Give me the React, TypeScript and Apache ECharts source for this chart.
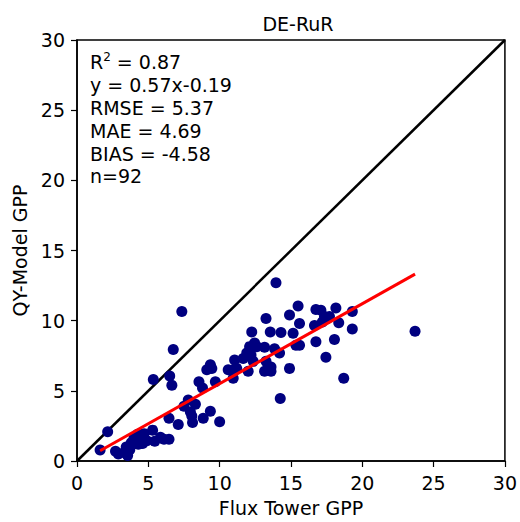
import React, { useEffect, useRef } from "react";
import * as echarts from "echarts";

const titleText = "DE-RuR";
const xName = "Flux Tower GPP";
const yName = "QY-Model GPP";
const axisTicks = [0, 5, 10, 15, 20, 25, 30];

const fluxGPP = [
  1.62, 2.15, 2.7, 2.9, 3.55, 3.45, 3.8, 4.0, 4.25, 4.45, 4.6, 4.7, 4.3, 3.7, 5.3, 5.45, 5.85, 6.1, 6.45, 6.45, 7.1, 3.3,
  8.1, 8.85, 9.35, 10.0, 7.8, 8.3, 7.5, 7.95, 8.05, 8.55, 8.8, 9.35, 9.45, 9.1, 9.7, 10.6, 10.95, 10.95, 11.05,
  7.35, 6.75, 5.35, 6.5, 6.65,
  11.65, 11.9, 12.2, 12.1, 12.6, 12.0, 12.35, 12.25, 12.45, 13.25, 13.55, 13.15, 13.85, 14.2, 13.25, 13.6, 13.15, 13.6,
  14.3, 14.9, 15.5, 15.6, 15.15, 15.35, 15.6, 14.9, 14.25, 13.95, 16.75, 17.1, 18.15, 19.3, 17.35, 17.55, 17.2, 18.35,
  16.65, 19.3, 23.7, 16.75, 18.05, 17.45, 18.7, 17.7, 4.9, 11.2,
];
const modelGPP = [
  0.78, 2.09, 0.7, 0.5, 0.4, 1.0, 1.3, 1.65, 1.9, 1.6, 1.25, 1.95, 1.2, 0.8, 2.2, 1.4, 1.7, 1.55, 1.55, 3.05, 2.6, 0.6,
  2.75, 3.05, 3.55, 2.8, 4.35, 4.05, 3.9, 3.5, 3.2, 5.65, 5.2, 6.85, 6.6, 6.5, 5.65, 6.5, 6.5, 5.9, 7.2,
  10.65, 7.95, 5.8, 6.05, 5.4,
  7.3, 7.7, 7.55, 8.15, 8.15, 6.4, 7.1, 9.2, 8.4, 10.15, 9.2, 8.1, 8.0, 7.7, 7.1, 6.7, 6.4, 6.4,
  9.15, 10.4, 11.05, 9.8, 9.1, 8.25, 8.25, 6.6, 4.45, 12.7, 10.8, 10.75, 10.9, 10.65, 10.3, 10.15, 9.9, 9.85,
  9.65, 9.4, 9.25, 8.5, 8.65, 7.4, 5.9, 10.3, 1.45, 6.6,
];

const fitSlope = 0.57;
const fitIntercept = -0.19;
const statLines = ["R{sup|2} = 0.87", "y = 0.57x-0.19", "RMSE = 5.37", "MAE = 4.69", "BIAS = -4.58", "n=92"];

const FONT = "DejaVu Sans";

export default function App() {
  const ref = useRef<HTMLDivElement>(null);
  useEffect(() => {
    document.body.style.margin = "0";
    if (!ref.current) return;
    const chart = echarts.init(ref.current, null, { renderer: "svg" });
    const pts = fluxGPP.map((x, i) => [x, modelGPP[i]]);
    const xmin = Math.min(...fluxGPP);
    const xmax = Math.max(...fluxGPP);
    const fitLine = [
      [xmin, fitSlope * xmin + fitIntercept],
      [xmax, fitSlope * xmax + fitIntercept],
    ];
    const axisCommon = {
      min: axisTicks[0],
      max: axisTicks[axisTicks.length - 1],
      interval: 5,
      nameLocation: "middle" as const,
      nameTextStyle: { fontFamily: FONT, fontSize: 19, color: "#000" },
      axisLine: { show: true, onZero: false, lineStyle: { color: "#000", width: 1.5 } },
      axisTick: { show: true, inside: false, length: 6, lineStyle: { color: "#000", width: 1.2 } },
      axisLabel: { fontFamily: FONT, fontSize: 19, color: "#000", margin: 12 },
      splitLine: { show: false },
    };
    chart.setOption({
      animation: false,
      backgroundColor: "#fff",
      title: {
        text: titleText,
        left: 293,
        top: 9,
        textAlign: "center",
        textStyle: { fontFamily: FONT, fontSize: 19, fontWeight: "normal", color: "#000" },
      },
      grid: {
        left: 77,
        right: 11,
        top: 40,
        bottom: 61,
        show: true,
        borderColor: "#000",
        borderWidth: 1.5,
        backgroundColor: "transparent",
      },
      xAxis: { ...axisCommon, type: "value", name: xName, nameGap: 37 },
      yAxis: { ...axisCommon, type: "value", name: yName, nameGap: 43 },
      graphic: [
        {
          type: "text",
          left: 90,
          top: 51,
          style: {
            text: statLines.join("\n"),
            fontFamily: FONT,
            fontSize: 19,
            lineHeight: 22.8,
            fill: "#000",
            rich: {
              sup: { fontSize: 12, verticalAlign: "top", lineHeight: 14, fontFamily: FONT, fill: "#000" },
            },
          } as any,
        },
      ],
      series: [
        {
          type: "line",
          data: [
            [0, 0],
            [30, 30],
          ],
          symbol: "none",
          lineStyle: { color: "#000", width: 2.5 },
          z: 1,
        },
        {
          type: "scatter",
          data: pts,
          symbolSize: 11,
          itemStyle: { color: "#000080", opacity: 1 },
          z: 2,
        },
        {
          type: "line",
          data: fitLine,
          symbol: "none",
          lineStyle: { color: "#ff0000", width: 3 },
          z: 3,
        },
      ],
    });
    return () => chart.dispose();
  }, []);
  return <div ref={ref} style={{ width: 520, height: 522 }} />;
}
